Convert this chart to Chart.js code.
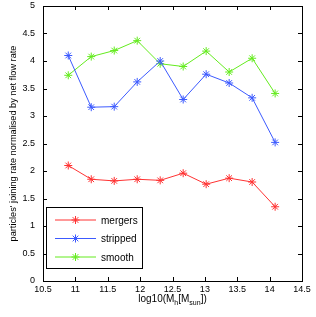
<!DOCTYPE html>
<html>
<head>
<meta charset="utf-8">
<script src="https://cdn.jsdelivr.net/npm/chart.js@4/dist/chart.umd.min.js"></script>
<style>
  html, body { margin: 0; padding: 0; background: #fff; }
  #wrap { width: 316px; height: 317px; position: relative; }
</style>
</head>
<body>
<div id="wrap"><canvas id="plot"></canvas></div>
<script>
'use strict';
// halo mass bins, log10(Mh [Msun])
const massBins = [10.89, 11.245, 11.6, 11.955, 12.31, 12.665, 13.02, 13.375, 13.73, 14.085];
const mergers  = [2.10, 1.85, 1.82, 1.85, 1.83, 1.96, 1.76, 1.87, 1.80, 1.35];
const stripped = [4.10, 3.16, 3.17, 3.62, 4.00, 3.30, 3.76, 3.60, 3.33, 2.52];
const smooth   = [3.74, 4.08, 4.19, 4.37, 3.95, 3.90, 4.18, 3.80, 4.05, 3.41];
const seriesNames = ['mergers', 'stripped', 'smooth'];
const seriesColors = ['rgb(255,50,50)', 'rgb(60,90,255)', 'rgb(100,235,30)'];

const FONT = 'Liberation Sans, Arial, Helvetica, sans-serif';
Chart.defaults.font.family = FONT;
Chart.defaults.color = '#000';

function toPoints(vals) {
    return vals.map((v, i) => ({x: massBins[i], y: v}));
}

// inward ticks on all four sides
const boxTicks = {
    id: 'boxTicks',
    afterDraw(chart) {
        const c = chart.ctx, a = chart.chartArea;
        const xs = chart.scales.x, ys = chart.scales.y;
        const L = 4;
        c.save();
        c.strokeStyle = '#000';
        c.lineWidth = 1;
        c.beginPath();
        xs.ticks.forEach(t => {
            const px = Math.round(xs.getPixelForValue(t.value)) + 0.5;
            c.moveTo(px, a.bottom); c.lineTo(px, a.bottom - L);
            c.moveTo(px, a.top); c.lineTo(px, a.top + L);
        });
        ys.ticks.forEach(t => {
            const py = Math.round(ys.getPixelForValue(t.value)) + 0.5;
            c.moveTo(a.left, py); c.lineTo(a.left + L, py);
            c.moveTo(a.right, py); c.lineTo(a.right - L, py);
        });
        c.stroke();
        c.strokeRect(Math.round(a.left) + 0.5, Math.round(a.top) + 0.5,
            Math.round(a.right - a.left), Math.round(a.bottom - a.top));
        c.restore();
    }
};

// legend box drawn inside the axes, lower left
const boxLegend = {
    id: 'boxLegend',
    afterDraw(chart) {
        const c = chart.ctx, a = chart.chartArea;
        const x0 = a.left + 3, y0 = a.bottom - 74, w = 96, h = 61;
        c.save();
        c.fillStyle = '#fff';
        c.fillRect(x0, y0, w, h);
        c.strokeStyle = '#000';
        c.lineWidth = 1;
        c.strokeRect(Math.round(x0) + 0.5, Math.round(y0) + 0.5, w, h);
        c.font = '10px ' + FONT;
        c.textBaseline = 'middle';
        chart.data.datasets.forEach((ds, i) => {
            const yy = y0 + 13 + i * 18.5;
            c.strokeStyle = ds.borderColor;
            c.beginPath();
            c.moveTo(x0 + 9, yy); c.lineTo(x0 + 50, yy);
            c.stroke();
            Chart.helpers.drawPoint(c, {pointStyle: 'star', radius: 4, borderWidth: 1}, x0 + 29.5, yy);
            c.fillStyle = '#000';
            c.fillText(ds.label, x0 + 55, yy + 1);
        });
        c.restore();
    }
};

// x axis title with subscripts
const xTitle = {
    id: 'xTitle',
    afterDraw(chart) {
        const c = chart.ctx, a = chart.chartArea;
        const parts = [['log10(M', 0], ['h', 1], ['[M', 0], ['sun', 1], ['])', 0]];
        const big = '10px ' + FONT, small = '7px ' + FONT;
        c.save();
        let total = 0;
        parts.forEach(p => { c.font = p[1] ? small : big; total += c.measureText(p[0]).width; });
        let x = (a.left + a.right) / 2 - total / 2;
        const y = a.bottom + 21;
        c.fillStyle = '#000';
        c.textBaseline = 'alphabetic';
        parts.forEach(p => {
            c.font = p[1] ? small : big;
            c.fillText(p[0], x, y + (p[1] ? 3 : 0));
            x += c.measureText(p[0]).width;
        });
        c.restore();
    }
};

const datasets = [mergers, stripped, smooth].map((vals, i) => ({
    label: seriesNames[i],
    data: toPoints(vals),
    borderColor: seriesColors[i],
    backgroundColor: seriesColors[i],
    borderWidth: 1,
    pointStyle: 'star',
    pointRadius: 4,
    pointBorderWidth: 1,
    tension: 0,
}));

new Chart(document.getElementById('plot'), {
    type: 'line',
    data: {datasets: datasets},
    options: {
        responsive: true,
        maintainAspectRatio: false,
        animation: false,
        layout: {padding: {top: 6, right: 14, left: 0, bottom: 0}},
        plugins: {legend: {display: false}, tooltip: {enabled: false}},
        scales: {
            x: {
                type: 'linear', min: 10.5, max: 14.5,
                grid: {display: false, drawTicks: false},
                border: {display: false},
                ticks: {stepSize: 0.5, font: {size: 9}, padding: 3, maxRotation: 0,
                    callback: v => String(v)},
                afterFit: s => { s.height = 36; s.paddingLeft = 0; s.paddingRight = 0; },
            },
            y: {
                min: 0, max: 5,
                grid: {display: false, drawTicks: false},
                border: {display: false},
                ticks: {stepSize: 0.5, font: {size: 9}, padding: 8,
                    callback: v => String(v)},
                title: {display: true, text: "particles' joining rate normalised by net flow rate",
                    font: {size: 9.2}, padding: {top: 8, bottom: 0}},
                afterFit: s => { s.width = 43; s.paddingTop = 0; s.paddingBottom = 0; },
            },
        },
    },
    plugins: [boxTicks, boxLegend, xTitle],
});
</script>
</body>
</html>
